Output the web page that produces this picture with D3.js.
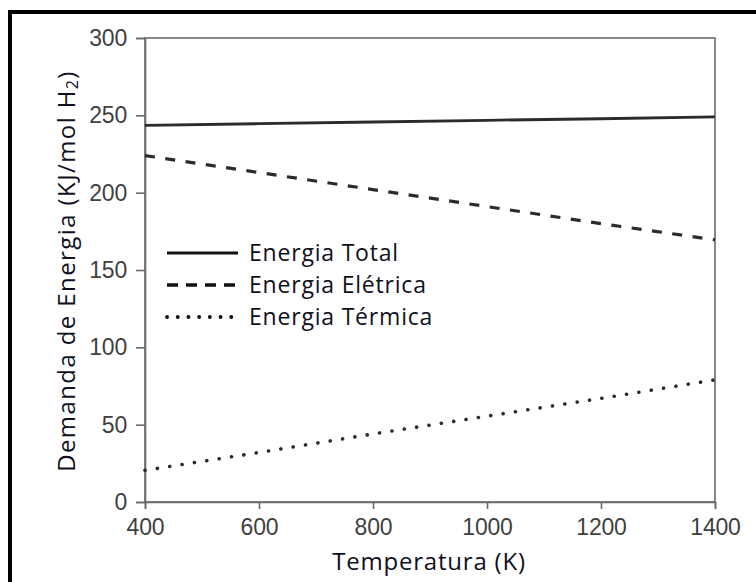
<!DOCTYPE html>
<html>
<head>
<meta charset="utf-8">
<script src="https://cdn.jsdelivr.net/npm/d3@7"></script>
<style>
  html, body { margin: 0; padding: 0; background: #fff; }
  svg { display: block; }
</style>
</head>
<body>
<svg id="chart" width="756" height="582"></svg>
<script>
// ---- data ----
const temperatures = [400, 600, 800, 1000, 1200, 1400];
const energiaTotal = [243.5, 244.6, 245.7, 246.8, 247.8, 249.0];
const energiaEletrica = [224, 213, 202, 191, 180, 169.5];
const energiaTermica = [20.5, 32, 44, 55.5, 67, 79];
const xTicks = [400, 600, 800, 1000, 1200, 1400];
const yTicks = [0, 50, 100, 150, 200, 250, 300];
const seriesNames = ["Energia Total", "Energia Elétrica", "Energia Térmica"];

const svg = d3.select("#chart");

// outer black frame (top + left visible)
svg.append("rect").attr("x", 8).attr("y", 10).attr("width", 760).attr("height", 4).attr("fill", "#000");
svg.append("rect").attr("x", 8).attr("y", 10).attr("width", 4).attr("height", 600).attr("fill", "#000");

const x = d3.scaleLinear().domain([400, 1400]).range([145, 715]);
const y = d3.scaleLinear().domain([0, 300]).range([502, 38]);

const axisColor = "#6a6a6a";
const tickFont = "'Liberation Sans', Arial, sans-serif";

// plot frame
svg.append("rect")
  .attr("x", x(400)).attr("y", y(300))
  .attr("width", x(1400) - x(400)).attr("height", y(0) - y(300))
  .attr("fill", "none").attr("stroke", axisColor).attr("stroke-width", 1.6);

const xAxis = svg.append("g")
  .attr("transform", `translate(0,${y(0)})`)
  .call(d3.axisBottom(x).tickValues(xTicks).tickSize(7).tickPadding(6).tickFormat(d3.format("d")));
const yAxis = svg.append("g")
  .attr("transform", `translate(${x(400)},0)`)
  .call(d3.axisLeft(y).tickValues(yTicks).tickSize(9).tickPadding(9));

[xAxis, yAxis].forEach(g => {
  g.select(".domain").attr("stroke", axisColor).attr("stroke-width", 1.6);
  g.selectAll(".tick line").attr("stroke", axisColor).attr("stroke-width", 1.6);
  g.selectAll(".tick text")
    .attr("fill", "#3f3f3f")
    .style("font-family", tickFont)
    .style("font-size", "23px")
    .style("letter-spacing", "-0.2px");
});
xAxis.selectAll(".tick text").attr("dy", "0.88em");

// lines
const lineGen = vals => d3.line()
  .x((d, i) => x(temperatures[i]))
  .y(d => y(d))(vals);

const styles = [
  { data: energiaTotal, width: 2.8, dash: null, cap: "butt" },
  { data: energiaEletrica, width: 3.2, dash: "10 10.5", cap: "butt" },
  { data: energiaTermica, width: 3.6, dash: "0.1 12.4", cap: "round" }
];
styles.forEach(s => {
  const p = svg.append("path")
    .attr("d", lineGen(s.data))
    .attr("fill", "none")
    .attr("stroke", "#2b2b2b")
    .attr("stroke-width", s.width)
    .attr("stroke-linecap", s.cap);
  if (s.dash) p.attr("stroke-dasharray", s.dash);
});

// legend
const labelFont = "'Open Sans', 'Noto Sans', sans-serif";
const legendY = [253, 285, 317];
const legendDash = [null, "11 8", "0.1 10.6"];
const legendWidth = [3, 3.4, 3.8];
const legendCap = ["butt", "butt", "round"];
seriesNames.forEach((name, i) => {
  const l = svg.append("line")
    .attr("x1", 167).attr("x2", i === 2 ? 232 : 238)
    .attr("y1", legendY[i]).attr("y2", legendY[i])
    .attr("stroke", "#111").attr("stroke-width", legendWidth[i])
    .attr("stroke-linecap", legendCap[i]);
  if (legendDash[i]) l.attr("stroke-dasharray", legendDash[i]);
  svg.append("text")
    .attr("x", 249).attr("y", legendY[i])
    .attr("dy", "0.36em")
    .attr("fill", "#10101c")
    .style("font-family", labelFont)
    .style("font-size", "23px")
    .style("letter-spacing", "0.8px")
    .text(name);
});

// axis titles
svg.append("text")
  .attr("x", (x(400) + x(1400)) / 2 - 1).attr("y", 561)
  .attr("dy", "0.36em")
  .attr("text-anchor", "middle")
  .attr("fill", "#10101c")
  .style("font-family", labelFont)
  .style("font-size", "24px")
  .style("letter-spacing", "0.8px")
  .text("Temperatura (K)");

const yt = svg.append("text")
  .attr("transform", `translate(66,${271}) rotate(-90)`)
  .attr("text-anchor", "middle")
  .attr("dy", "0.36em")
  .attr("fill", "#10101c")
  .style("font-family", labelFont)
  .style("font-size", "24px")
  .style("letter-spacing", "1.4px");
yt.append("tspan").text("Demanda de Energia (KJ/mol H");
yt.append("tspan").attr("dy", "3").style("font-size", "16px").text("2");
yt.append("tspan").attr("dy", "-3").text(")");
</script>
</body>
</html>
